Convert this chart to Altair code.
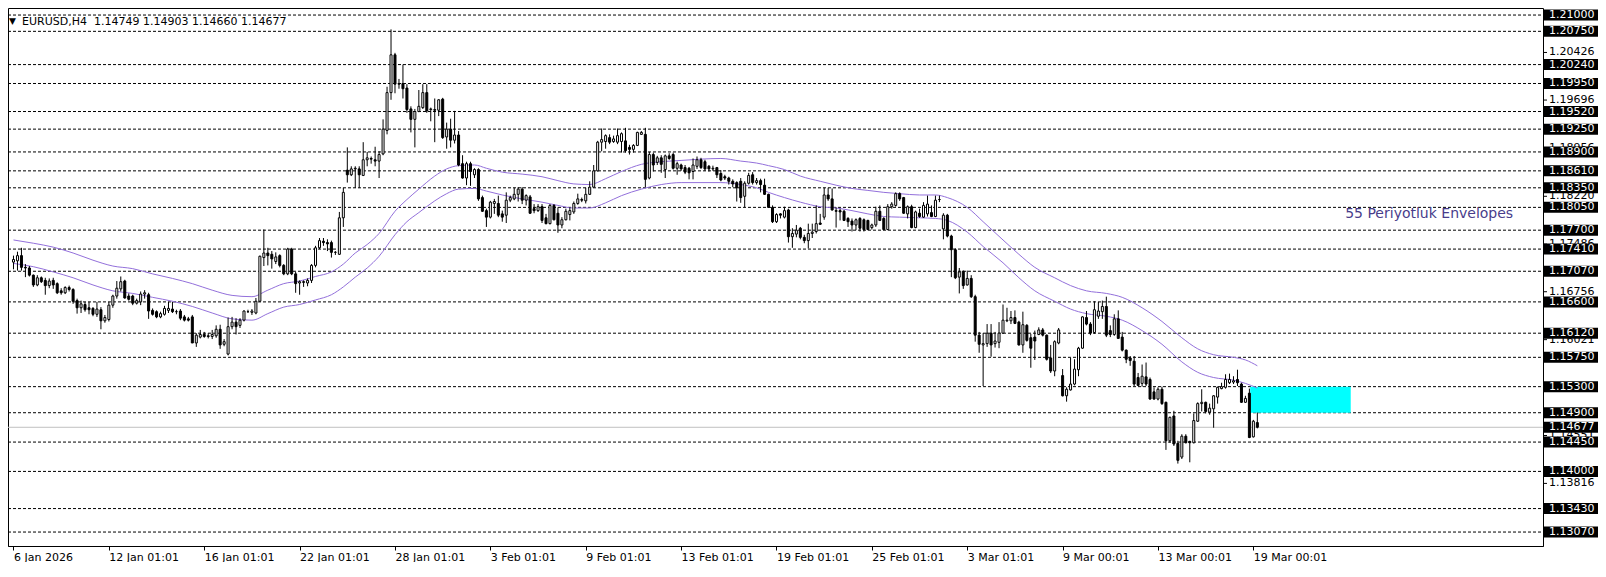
import altair as alt
import pandas as pd

# ---------------- data ----------------
opens = [
    1.1721, 1.1723, 1.1731, 1.1713, 1.1712, 1.1701, 1.1686, 1.1697, 1.1693, 1.1685,
    1.1693, 1.1688, 1.1677, 1.1674, 1.1682, 1.1679, 1.1662, 1.1651, 1.1656, 1.1651,
    1.1650, 1.1641, 1.1648, 1.1631, 1.1633, 1.1655, 1.1669, 1.1680, 1.1692, 1.1669,
    1.1669, 1.1658, 1.1660, 1.1672, 1.1671, 1.1647, 1.1645, 1.1637, 1.1641, 1.1647,
    1.1649, 1.1645, 1.1646, 1.1637, 1.1634, 1.1637, 1.1597, 1.1606, 1.1610, 1.1608,
    1.1607, 1.1608, 1.1618, 1.1595, 1.1580, 1.1622, 1.1629, 1.1624, 1.1632, 1.1645,
    1.1644, 1.1643, 1.1661, 1.1728, 1.1735, 1.1733, 1.1722, 1.1731, 1.1716, 1.1703,
    1.1741, 1.1703, 1.1689, 1.1691, 1.1689, 1.1693, 1.1716, 1.1743, 1.1753, 1.1751,
    1.1751, 1.1736, 1.1733, 1.1789, 1.1862, 1.1855, 1.1864, 1.1864, 1.1854, 1.1878,
    1.1880, 1.1878, 1.1876, 1.1887, 1.1923, 1.1981, 1.2039, 1.1995, 1.1995, 1.1988,
    1.1956, 1.1940, 1.1952, 1.1958, 1.1981, 1.1955, 1.1955, 1.1954, 1.1971, 1.1913,
    1.1925, 1.1908, 1.1916, 1.1872, 1.1850, 1.1872, 1.1855, 1.1863, 1.1820, 1.1800,
    1.1790, 1.1811, 1.1811, 1.1795, 1.1793, 1.1816, 1.1818, 1.1825, 1.1833, 1.1816,
    1.1821, 1.1803, 1.1800, 1.1806, 1.1789, 1.1780, 1.1808, 1.1796, 1.1778, 1.1786,
    1.1794, 1.1798, 1.1811, 1.1817, 1.1815, 1.1825, 1.1836, 1.1861, 1.1905, 1.1906,
    1.1912, 1.1906, 1.1905, 1.1906, 1.1907, 1.1897, 1.1894, 1.1900, 1.1917, 1.1917,
    1.1850, 1.1886, 1.1874, 1.1881, 1.1863, 1.1884, 1.1886, 1.1865, 1.1870, 1.1866,
    1.1865, 1.1860, 1.1868, 1.1878, 1.1875, 1.1868, 1.1864, 1.1866, 1.1857, 1.1852,
    1.1850, 1.1845, 1.1843, 1.1845, 1.1822, 1.1842, 1.1855, 1.1843, 1.1846, 1.1839,
    1.1825, 1.1805, 1.1783, 1.1795, 1.1790, 1.1801, 1.1760, 1.1764, 1.1773, 1.1759,
    1.1754, 1.1765, 1.1768, 1.1781, 1.1790, 1.1824, 1.1818, 1.1800, 1.1800, 1.1799,
    1.1788, 1.1784, 1.1778, 1.1788, 1.1786, 1.1785, 1.1774, 1.1778, 1.1799, 1.1788,
    1.1771, 1.1806, 1.1808, 1.1826, 1.1820, 1.1795, 1.1806, 1.1774, 1.1796, 1.1790,
    1.1795, 1.1797, 1.1791, 1.1817, 1.1772, 1.1793, 1.1761, 1.1740, 1.1698, 1.1707,
    1.1686, 1.1696, 1.1668, 1.1609, 1.1594, 1.1596, 1.1612, 1.1596, 1.1598, 1.1612,
    1.1631, 1.1631, 1.1636, 1.1629, 1.1594, 1.1624, 1.1605, 1.1606, 1.1610, 1.1617,
    1.1609, 1.1574, 1.1554, 1.1597, 1.1547, 1.1516, 1.1525, 1.1534, 1.1556, 1.1589,
    1.1636, 1.1626, 1.1613, 1.1638, 1.1645, 1.1653, 1.1616, 1.1610, 1.1634, 1.1606,
    1.1586, 1.1574, 1.1569, 1.1544, 1.1535, 1.1545, 1.1541, 1.1522, 1.1511, 1.1526,
    1.1506, 1.1447, 1.1485, 1.1443, 1.1422, 1.1454, 1.1446, 1.1444, 1.1477, 1.1504,
    1.1506, 1.1491, 1.1496, 1.1514, 1.1527, 1.1529, 1.1536, 1.1537, 1.1541, 1.1534,
    1.1506, 1.1520, 1.1453, 1.14749,
]
highs = [
    1.1731, 1.1737, 1.1743, 1.1718, 1.1715, 1.1702, 1.1701, 1.1699, 1.1697, 1.1696,
    1.1697, 1.1690, 1.1681, 1.1684, 1.1685, 1.1681, 1.1665, 1.1662, 1.1660, 1.1660,
    1.1652, 1.1660, 1.1652, 1.1640, 1.1660, 1.1671, 1.1692, 1.1699, 1.1694, 1.1673,
    1.1671, 1.1665, 1.1676, 1.1678, 1.1674, 1.1650, 1.1647, 1.1645, 1.1654, 1.1660,
    1.1660, 1.1648, 1.1649, 1.1640, 1.1637, 1.1640, 1.1612, 1.1617, 1.1614, 1.1612,
    1.1617, 1.1624, 1.1625, 1.1603, 1.1636, 1.1637, 1.1635, 1.1635, 1.1647, 1.1648,
    1.1649, 1.1666, 1.1731, 1.1771, 1.1743, 1.1738, 1.1736, 1.1733, 1.1718, 1.1743,
    1.1743, 1.1706, 1.1693, 1.1693, 1.1696, 1.1718, 1.1746, 1.1758, 1.1758, 1.1756,
    1.1754, 1.1738, 1.1798, 1.1835, 1.1897, 1.1868, 1.1868, 1.1868, 1.1905, 1.1890,
    1.1883, 1.1898, 1.1891, 1.1940, 1.1990, 1.2078, 1.2042, 1.2002, 1.2024, 1.1994,
    1.1960, 1.1956, 1.1985, 1.1994, 1.1994, 1.1958, 1.1972, 1.1971, 1.1973, 1.1935,
    1.1941, 1.1953, 1.1922, 1.1885, 1.1875, 1.1875, 1.1865, 1.1865, 1.1823, 1.1803,
    1.1815, 1.1818, 1.1823, 1.1800, 1.1828, 1.1823, 1.1835, 1.1836, 1.1836, 1.1825,
    1.1824, 1.1810, 1.1810, 1.1810, 1.1795, 1.1810, 1.1810, 1.1805, 1.1790, 1.1803,
    1.1805, 1.1814, 1.1826, 1.1820, 1.1835, 1.1845, 1.1870, 1.1907, 1.1926, 1.1917,
    1.1917, 1.1915, 1.1926, 1.1920, 1.1927, 1.1901, 1.1902, 1.1921, 1.1922, 1.1927,
    1.1890, 1.1889, 1.1884, 1.1885, 1.1886, 1.1888, 1.1889, 1.1875, 1.1872, 1.1870,
    1.1867, 1.1880, 1.1883, 1.1881, 1.1878, 1.1870, 1.1869, 1.1867, 1.1862, 1.1855,
    1.1852, 1.1848, 1.1845, 1.1850, 1.1845, 1.1858, 1.1859, 1.1850, 1.1849, 1.1849,
    1.1826, 1.1808, 1.1796, 1.1796, 1.1806, 1.1803, 1.1773, 1.1778, 1.1775, 1.1763,
    1.1780, 1.1780, 1.1808, 1.1795, 1.1835, 1.1835, 1.1834, 1.1805, 1.1803, 1.1801,
    1.1790, 1.1788, 1.1788, 1.1790, 1.1788, 1.1786, 1.1780, 1.1806, 1.1808, 1.1790,
    1.1810, 1.1813, 1.1828, 1.1828, 1.1821, 1.1808, 1.1809, 1.1800, 1.1803, 1.1813,
    1.1823, 1.1808, 1.1823, 1.1823, 1.1796, 1.1795, 1.1763, 1.1742, 1.1712, 1.1708,
    1.1708, 1.1701, 1.1671, 1.1614, 1.1612, 1.1626, 1.1626, 1.1614, 1.1629, 1.1656,
    1.1651, 1.1646, 1.1647, 1.1631, 1.1645, 1.1626, 1.1611, 1.1616, 1.1621, 1.1620,
    1.1610, 1.1594, 1.1601, 1.1620, 1.1557, 1.1529, 1.1574, 1.1572, 1.1591, 1.1638,
    1.1646, 1.1629, 1.1661, 1.1660, 1.1662, 1.1668, 1.1624, 1.1641, 1.1647, 1.1614,
    1.1587, 1.1577, 1.1577, 1.1551, 1.1564, 1.1567, 1.1544, 1.1529, 1.1529, 1.1530,
    1.1507, 1.1484, 1.1493, 1.1447, 1.1457, 1.1457, 1.1447, 1.1489, 1.1506, 1.1526,
    1.1507, 1.1504, 1.1517, 1.1530, 1.1536, 1.1549, 1.1550, 1.1546, 1.1556, 1.1536,
    1.1516, 1.1527, 1.1479, 1.14903,
]
lows = [
    1.1710, 1.1708, 1.1708, 1.1698, 1.1699, 1.1683, 1.1684, 1.1689, 1.1671, 1.1681,
    1.1680, 1.1672, 1.1671, 1.1672, 1.1676, 1.1657, 1.1642, 1.1643, 1.1645, 1.1641,
    1.1638, 1.1637, 1.1618, 1.1628, 1.1630, 1.1651, 1.1665, 1.1676, 1.1665, 1.1662,
    1.1655, 1.1656, 1.1655, 1.1665, 1.1634, 1.1639, 1.1635, 1.1635, 1.1639, 1.1643,
    1.1643, 1.1641, 1.1632, 1.1630, 1.1630, 1.1597, 1.1591, 1.1604, 1.1605, 1.1604,
    1.1603, 1.1605, 1.1588, 1.1592, 1.1578, 1.1618, 1.1610, 1.1620, 1.1630, 1.1643,
    1.1640, 1.1641, 1.1660, 1.1715, 1.1716, 1.1711, 1.1718, 1.1713, 1.1701, 1.1701,
    1.1701, 1.1674, 1.1671, 1.1683, 1.1684, 1.1689, 1.1713, 1.1741, 1.1746, 1.1738,
    1.1728, 1.1732, 1.1732, 1.1775, 1.1843, 1.1853, 1.1835, 1.1835, 1.1853, 1.1868,
    1.1872, 1.1868, 1.1850, 1.1885, 1.1917, 1.1970, 1.1980, 1.1987, 1.1972, 1.1950,
    1.1920, 1.1897, 1.1951, 1.1956, 1.1950, 1.1937, 1.1905, 1.1945, 1.1910, 1.1895,
    1.1897, 1.1903, 1.1868, 1.1849, 1.1839, 1.1838, 1.1850, 1.1815, 1.1798, 1.1775,
    1.1788, 1.1795, 1.1790, 1.1783, 1.1781, 1.1813, 1.1816, 1.1814, 1.1810, 1.1808,
    1.1795, 1.1796, 1.1798, 1.1781, 1.1779, 1.1779, 1.1785, 1.1766, 1.1773, 1.1785,
    1.1785, 1.1795, 1.1809, 1.1813, 1.1811, 1.1824, 1.1835, 1.1860, 1.1891, 1.1895,
    1.1902, 1.1904, 1.1902, 1.1889, 1.1889, 1.1886, 1.1889, 1.1899, 1.1916, 1.1836,
    1.1848, 1.1860, 1.1870, 1.1858, 1.1850, 1.1878, 1.1863, 1.1855, 1.1861, 1.1856,
    1.1848, 1.1848, 1.1864, 1.1864, 1.1861, 1.1860, 1.1861, 1.1850, 1.1845, 1.1847,
    1.1840, 1.1836, 1.1814, 1.1812, 1.1805, 1.1840, 1.1840, 1.1840, 1.1828, 1.1824,
    1.1804, 1.1781, 1.1781, 1.1788, 1.1788, 1.1751, 1.1743, 1.1759, 1.1756, 1.1750,
    1.1742, 1.1758, 1.1765, 1.1778, 1.1786, 1.1815, 1.1800, 1.1774, 1.1785, 1.1784,
    1.1775, 1.1768, 1.1770, 1.1768, 1.1768, 1.1770, 1.1771, 1.1775, 1.1784, 1.1770,
    1.1770, 1.1803, 1.1806, 1.1815, 1.1795, 1.1788, 1.1773, 1.1773, 1.1789, 1.1789,
    1.1791, 1.1790, 1.1790, 1.1813, 1.1756, 1.1759, 1.1698, 1.1695, 1.1673, 1.1680,
    1.1685, 1.1666, 1.1599, 1.1582, 1.1531, 1.1591, 1.1576, 1.1590, 1.1589, 1.1611,
    1.1629, 1.1626, 1.1626, 1.1593, 1.1582, 1.1599, 1.1559, 1.1571, 1.1609, 1.1607,
    1.1570, 1.1551, 1.1546, 1.1595, 1.1515, 1.1507, 1.1524, 1.1532, 1.1546, 1.1588,
    1.1624, 1.1609, 1.1611, 1.1634, 1.1634, 1.1606, 1.1606, 1.1608, 1.1604, 1.1584,
    1.1566, 1.1562, 1.1531, 1.1531, 1.1530, 1.1531, 1.1510, 1.1510, 1.1509, 1.1502,
    1.1433, 1.1444, 1.1439, 1.1412, 1.1419, 1.1443, 1.1414, 1.1443, 1.1476, 1.1492,
    1.1489, 1.1487, 1.1467, 1.1504, 1.1526, 1.1527, 1.1534, 1.1534, 1.1531, 1.1505,
    1.1505, 1.1451, 1.1452, 1.14660,
]
closes = [
    1.1725, 1.1731, 1.1713, 1.1712, 1.1701, 1.1686, 1.1697, 1.1691, 1.1685, 1.1692,
    1.1686, 1.1674, 1.1674, 1.1682, 1.1679, 1.1661, 1.1651, 1.1657, 1.1648, 1.1648,
    1.1641, 1.1649, 1.1631, 1.1636, 1.1655, 1.1669, 1.1681, 1.1691, 1.1666, 1.1664,
    1.1658, 1.1662, 1.1672, 1.1674, 1.1646, 1.1641, 1.1637, 1.1642, 1.1650, 1.1650,
    1.1645, 1.1645, 1.1635, 1.1632, 1.1632, 1.1597, 1.1609, 1.1610, 1.1607, 1.1607,
    1.1610, 1.1618, 1.1594, 1.1599, 1.1622, 1.1629, 1.1622, 1.1632, 1.1646, 1.1645,
    1.1646, 1.1661, 1.1730, 1.1735, 1.1731, 1.1726, 1.1729, 1.1716, 1.1703, 1.1741,
    1.1703, 1.1688, 1.1691, 1.1690, 1.1693, 1.1716, 1.1743, 1.1754, 1.1751, 1.1749,
    1.1736, 1.1736, 1.1789, 1.1828, 1.1855, 1.1864, 1.1865, 1.1855, 1.1878, 1.1881,
    1.1879, 1.1876, 1.1886, 1.1925, 1.1981, 1.2039, 1.1994, 1.1994, 1.1987, 1.1955,
    1.1940, 1.1952, 1.1960, 1.1981, 1.1953, 1.1956, 1.1954, 1.1970, 1.1912, 1.1925,
    1.1908, 1.1916, 1.1870, 1.1850, 1.1872, 1.1860, 1.1863, 1.1818, 1.1799, 1.1790,
    1.1813, 1.1814, 1.1793, 1.1790, 1.1816, 1.1820, 1.1825, 1.1833, 1.1816, 1.1823,
    1.1796, 1.1800, 1.1806, 1.1785, 1.1780, 1.1808, 1.1786, 1.1778, 1.1786, 1.1799,
    1.1800, 1.1811, 1.1818, 1.1816, 1.1825, 1.1836, 1.1861, 1.1905, 1.1909, 1.1915,
    1.1905, 1.1910, 1.1915, 1.1918, 1.1892, 1.1894, 1.1900, 1.1920, 1.1920, 1.1848,
    1.1886, 1.1870, 1.1881, 1.1871, 1.1884, 1.1880, 1.1865, 1.1872, 1.1864, 1.1859,
    1.1858, 1.1870, 1.1878, 1.1866, 1.1864, 1.1864, 1.1865, 1.1855, 1.1847, 1.1850,
    1.1845, 1.1841, 1.1835, 1.1820, 1.1842, 1.1854, 1.1843, 1.1846, 1.1840, 1.1825,
    1.1805, 1.1783, 1.1794, 1.1793, 1.1800, 1.1760, 1.1765, 1.1770, 1.1759, 1.1754,
    1.1765, 1.1767, 1.1780, 1.1779, 1.1824, 1.1818, 1.1801, 1.1799, 1.1798, 1.1785,
    1.1783, 1.1778, 1.1786, 1.1773, 1.1771, 1.1771, 1.1778, 1.1799, 1.1785, 1.1771,
    1.1806, 1.1810, 1.1826, 1.1818, 1.1796, 1.1806, 1.1774, 1.1798, 1.1791, 1.1808,
    1.1810, 1.1791, 1.1816, 1.1817, 1.1793, 1.1761, 1.1740, 1.1697, 1.1706, 1.1685,
    1.1696, 1.1668, 1.1609, 1.1595, 1.1596, 1.1612, 1.1594, 1.1600, 1.1612, 1.1632,
    1.1632, 1.1636, 1.1627, 1.1594, 1.1625, 1.1601, 1.1589, 1.1600, 1.1617, 1.1609,
    1.1572, 1.1554, 1.1599, 1.1617, 1.1516, 1.1526, 1.1534, 1.1557, 1.1589, 1.1637,
    1.1626, 1.1612, 1.1648, 1.1646, 1.1653, 1.1609, 1.1610, 1.1634, 1.1604, 1.1586,
    1.1572, 1.1570, 1.1534, 1.1532, 1.1546, 1.1534, 1.1511, 1.1511, 1.1526, 1.1504,
    1.1447, 1.1483, 1.1442, 1.1417, 1.1454, 1.1444, 1.1444, 1.1478, 1.1504, 1.1506,
    1.1492, 1.1497, 1.1516, 1.1529, 1.1530, 1.1541, 1.1541, 1.1539, 1.1536, 1.1506,
    1.1512, 1.1452, 1.1477, 1.14677,
]

# 55-period envelopes (read at sample bars)
env_idx = [0, 5, 10, 15, 20, 25, 30, 35, 40, 45, 50, 55, 60, 64, 68, 72, 76, 80, 83, 86,
           89, 92, 96, 99, 102, 106, 109, 112, 116, 119, 123, 128, 133, 137, 141, 145, 149, 153, 158, 163,
           168, 173, 178, 183, 187, 190, 194, 198, 203, 207, 211, 215, 219, 223, 228, 232, 235, 240, 244, 249,
           253, 257, 262, 266, 270, 275, 279, 284, 289, 294, 298, 302, 307, 310, 313]
env_up = [1.1755, 1.1750, 1.1744, 1.1735, 1.1724, 1.1715, 1.1711, 1.1703, 1.1696, 1.1688,
          1.1678, 1.1670, 1.1668, 1.1678, 1.1688, 1.1692, 1.1699, 1.1706, 1.1718, 1.1735,
          1.1748, 1.1765, 1.1799, 1.1817, 1.1833, 1.1853, 1.1864, 1.1869, 1.1870, 1.1865,
          1.1859, 1.1856, 1.1852, 1.1846, 1.1841, 1.1840, 1.1849, 1.1860, 1.1871, 1.1875,
          1.1877, 1.1879, 1.1880, 1.1876, 1.1873, 1.1869, 1.1863, 1.1853, 1.1845, 1.1839,
          1.1834, 1.1831, 1.1828, 1.1826, 1.1824, 1.1824, 1.1820, 1.1805, 1.1783, 1.1755,
          1.1733, 1.1713, 1.1697, 1.1685, 1.1677, 1.1673, 1.1667, 1.1651, 1.1630, 1.1605,
          1.1588, 1.1579, 1.1575, 1.1571, 1.1562]
env_lo = [1.1719, 1.1714, 1.1706, 1.1697, 1.1686, 1.1677, 1.1673, 1.1667, 1.1661, 1.1653,
          1.1643, 1.1634, 1.1632, 1.1642, 1.1652, 1.1656, 1.1663, 1.1671, 1.1683, 1.1698,
          1.1712, 1.1730, 1.1763, 1.1783, 1.1797, 1.1815, 1.1826, 1.1833, 1.1834, 1.1830,
          1.1824, 1.1818, 1.1813, 1.1808, 1.1804, 1.1804, 1.1812, 1.1823, 1.1833, 1.1840,
          1.1843, 1.1843, 1.1843, 1.1840, 1.1835, 1.1828, 1.1820, 1.1813, 1.1806, 1.1804,
          1.1800, 1.1795, 1.1791, 1.1790, 1.1789, 1.1788, 1.1785, 1.1767, 1.1745, 1.1720,
          1.1697, 1.1677, 1.1661, 1.1649, 1.1642, 1.1638, 1.1632, 1.1616, 1.1595, 1.1568,
          1.1552, 1.1544, 1.1540, 1.1535, 1.1528]

level_prices = [1.21000, 1.20750, 1.20240, 1.19950, 1.19520, 1.19250, 1.18900, 1.18610,
                1.18350, 1.18050, 1.17700, 1.17410, 1.17070, 1.16600, 1.16120, 1.15750,
                1.15300, 1.14900, 1.14450, 1.14000, 1.13430, 1.13070]
scale_ticks = [1.20426, 1.19696, 1.18956, 1.18220, 1.17486, 1.16756, 1.16021, 1.15286,
               1.14551, 1.13816]
last_price = 1.14677

date_idx = [0, 24, 48, 72, 96, 120, 144, 168, 192, 216, 240, 264, 288, 312]
date_labels = ["6 Jan 2026", "12 Jan 01:01", "16 Jan 01:01", "22 Jan 01:01", "28 Jan 01:01",
               "3 Feb 01:01", "9 Feb 01:01", "13 Feb 01:01", "19 Feb 01:01", "25 Feb 01:01",
               "3 Mar 01:01", "9 Mar 00:01", "13 Mar 00:01", "19 Mar 00:01"]

zone_bars = [311.2, 336.5]
zone_prices = [1.15300, 1.14900]

symbol_text = "EURUSD,H4"
ohlc_text = "1.14749 1.14903 1.14660 1.14677"
note_text = "55 Periyotluk Envelopes"
note_pos = [335.1, 1.17953]

# ---------------- layout ----------------
W, H = 1535, 538
PAD_R, PAD_B = 55, 16
FONT = "DejaVu Sans"

x_scale = alt.Scale(domain=[-0.125, 383.625], nice=False, zero=False)
y_scale = alt.Scale(domain=[1.128559, 1.211080], nice=False, zero=False)

label_expr = ("[" + ",".join("'%s'" % s for s in date_labels) + "][indexof(["
              + ",".join(str(v) for v in date_idx) + "], datum.value)]")
x_axis = alt.Axis(values=date_idx, labelExpr=label_expr, title=None, grid=False,
                  domain=True, domainColor="black", ticks=True, tickColor="black",
                  tickSize=4, labelAlign="left", labelBaseline="top", labelPadding=1,
                  labelFont=FONT, labelFontSize=11, labelColor="black",
                  labelOverlap=False, labelFlush=False, labelBound=False)

def X(field):
    return alt.X(field, scale=x_scale, axis=x_axis)

def Y(field):
    return alt.Y(field, scale=y_scale, axis=None)

candles_df = pd.DataFrame({"i": list(range(len(opens))), "o": opens, "h": highs,
                           "l": lows, "c": closes})
env_df = pd.DataFrame({"i": env_idx + env_idx,
                       "p": env_up + env_lo,
                       "band": ["up"] * len(env_idx) + ["lo"] * len(env_idx)})
lev_df = pd.DataFrame({"p": level_prices})
tick_df = pd.DataFrame({"p": scale_ticks})
box_df = pd.DataFrame({"p": level_prices + [last_price]})
last_df = pd.DataFrame({"p": [last_price]})
zone_df = pd.DataFrame({"x0": [zone_bars[0]], "x1": [zone_bars[1]],
                        "top": [zone_prices[0]], "bot": [zone_prices[1]]})
note_df = pd.DataFrame({"x": [note_pos[0]], "p": [note_pos[1]], "t": [note_text]})

levels = alt.Chart(lev_df).mark_rule(color="black", strokeWidth=1, strokeDash=[3, 2]).encode(
    y=Y("p:Q"), x=alt.value(0), x2=alt.value(W))
last_line = alt.Chart(last_df).mark_rule(color="#C0C0C0", strokeWidth=1).encode(
    y=Y("p:Q"), x=alt.value(0), x2=alt.value(W))
zone = alt.Chart(zone_df).mark_rect(color="#00FFFF").encode(
    x=X("x0:Q"), x2="x1:Q", y=Y("top:Q"), y2="bot:Q")
envelopes = alt.Chart(env_df).mark_line(color="#9370DB", strokeWidth=1,
                                        interpolate="monotone").encode(
    x=X("i:Q"), y=Y("p:Q"), detail="band:N")
wicks = alt.Chart(candles_df).mark_rule(color="black", strokeWidth=1).encode(
    x=X("i:Q"), y=Y("l:Q"), y2="h:Q")
bodies = alt.Chart(candles_df).transform_calculate(
    dir="datum.c >= datum.o ? 'up' : 'down'"
).mark_bar(size=2, stroke="black", strokeWidth=1).encode(
    x=X("i:Q"), y=Y("o:Q"), y2="c:Q",
    fill=alt.Fill("dir:N", scale=alt.Scale(domain=["up", "down"], range=["white", "black"]),
                  legend=None))

tick_marks = alt.Chart(tick_df).mark_rule(color="black", strokeWidth=1).encode(
    y=Y("p:Q"), x=alt.value(W), x2=alt.value(W + 4))
tick_text = alt.Chart(tick_df).mark_text(align="left", baseline="middle", font=FONT,
                                         fontSize=11, color="black").encode(
    y=Y("p:Q"), x=alt.value(W + 6), text=alt.Text("p:Q", format=".5f"))
boxes = alt.Chart(box_df).mark_rule(color="black", strokeWidth=11, strokeCap="butt").encode(
    y=Y("p:Q"), x=alt.value(W + 1), x2=alt.value(W + PAD_R))
box_text = alt.Chart(box_df).mark_text(align="left", baseline="middle", font=FONT,
                                       fontSize=11, color="white").encode(
    y=Y("p:Q"), x=alt.value(W + 6), text=alt.Text("p:Q", format=".5f"))

tri = alt.Chart(pd.DataFrame({"t": ["\u25BC"]})).mark_text(
    align="left", baseline="alphabetic", font=FONT, fontSize=9, color="black").encode(
    x=alt.value(1), y=alt.value(16), text="t:N")
sym = alt.Chart(pd.DataFrame({"t": [symbol_text]})).mark_text(
    align="left", baseline="alphabetic", font=FONT, fontSize=11, color="black").encode(
    x=alt.value(14), y=alt.value(17), text="t:N")
ohlc = alt.Chart(pd.DataFrame({"t": [ohlc_text]})).mark_text(
    align="left", baseline="alphabetic", font=FONT, fontSize=11, color="black").encode(
    x=alt.value(86), y=alt.value(17), text="t:N")
note = alt.Chart(note_df).mark_text(align="left", baseline="middle", font=FONT,
                                    fontSize=14, color="#483D8B").encode(
    x=X("x:Q"), y=Y("p:Q"), text="t:N")

chart = alt.layer(
    levels, last_line, zone, envelopes, wicks, bodies,
    tick_marks, tick_text, boxes, box_text, tri, sym, ohlc, note
).properties(
    width=W, height=H,
    padding={"left": 0, "top": 0, "right": PAD_R, "bottom": PAD_B},
    autosize=alt.AutoSizeParams(type="none"),
    background="white",
).configure_view(stroke="black", strokeWidth=1)

chart.save("out.html", embed_options={"renderer": "svg", "actions": False})
